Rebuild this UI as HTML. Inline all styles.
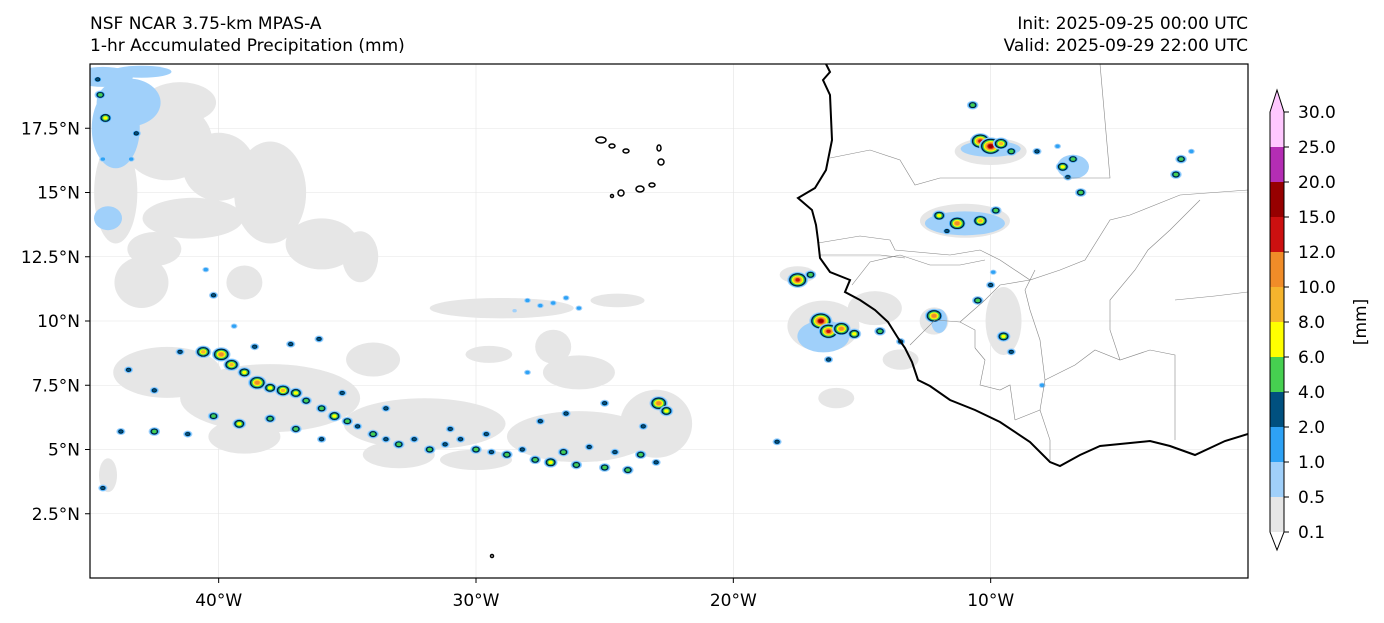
<!DOCTYPE html>
<html><head><meta charset="utf-8">
<style>
html,body{margin:0;padding:0;background:#fff;width:1384px;height:623px;overflow:hidden;font-family:"DejaVu Sans",sans-serif;}
svg text{font-family:"DejaVu Sans","Liberation Sans",sans-serif;fill:#000;}
</style></head>
<body>
<svg id="chart" width="1384" height="623" viewBox="0 0 1384 623" xmlns="http://www.w3.org/2000/svg">
  <text x="90" y="29" font-size="17">NSF NCAR 3.75-km MPAS-A</text>
  <text x="90" y="51" font-size="17">1-hr Accumulated Precipitation (mm)</text>
  <text x="1248" y="29" font-size="17" text-anchor="end">Init: 2025-09-25 00:00 UTC</text>
  <text x="1248" y="51" font-size="17" text-anchor="end">Valid: 2025-09-29 22:00 UTC</text>
  <defs><clipPath id="mapclip"><rect x="90" y="64" width="1158" height="514"/></clipPath></defs>
  <g id="map" clip-path="url(#mapclip)">
    <g id="grid"></g>
    <g id="grey"></g>
    <g id="lblue"></g>
    <g id="cells"></g>
    <g fill="none" stroke="#888" stroke-width="0.6">
      <path d="M830,158 L870,150 L900,160 L915,185 L940,178 L1015,178 L1110,178 L1100,64"/>
      <path d="M818,243 L860,236 L890,240 L895,250 L950,255 L980,250 L1000,260 L1030,280 L1060,270 L1085,260 L1110,220 L1130,215 L1180,195 L1248,190"/>
      <path d="M820,255 L880,255 L905,258"/>
      <path d="M852,285 L870,262 L900,255 L930,265 L960,265 L975,262 L985,260"/>
      <path d="M910,345 L935,320 L960,322 L975,330 L975,348"/>
      <path d="M960,322 L985,300 L1000,285 L1030,280"/>
      <path d="M975,348 L985,360 L980,385 L1000,390 L1010,385 L1015,420"/>
      <path d="M1015,420 L1040,410 L1050,440 L1050,460"/>
      <path d="M1040,410 L1045,380 L1040,340 L1030,310 L1025,290 L1035,270"/>
      <path d="M1045,380 L1075,365 L1095,350 L1120,360 L1150,350 L1175,355 L1175,440"/>
      <path d="M1120,360 L1110,330 L1110,300 L1135,270 L1148,250 L1170,230 L1200,200"/>
      <path d="M1175,300 L1215,296 L1248,292"/>
    </g>
    <path fill="none" stroke="#000" stroke-width="2" d="M826,64 L830,72 L823,80 L830,95 L832,140 L826,170 L815,188 L798,198 L812,210 L816,225 L818,240 L820,258 L830,272 L850,280 L845,292 L860,300 L875,310 L888,322 L898,338 L905,348 L912,362 L918,380 L930,386 L950,400 L975,410 L1000,422 L1030,442 L1050,462 L1060,466 L1080,455 L1100,446 L1150,441 L1170,446 L1195,455 L1225,441 L1248,434"/>
    <g fill="none" stroke="#000" stroke-width="1.5">
      <ellipse cx="601" cy="140" rx="5" ry="3"/><ellipse cx="612" cy="146" rx="3" ry="2"/>
      <ellipse cx="626" cy="151" rx="3" ry="2"/><ellipse cx="659" cy="148" rx="2" ry="3"/>
      <ellipse cx="661" cy="162" rx="3" ry="3"/><ellipse cx="621" cy="193" rx="3" ry="3"/>
      <ellipse cx="640" cy="189" rx="4" ry="3"/><ellipse cx="652" cy="185" rx="3" ry="2"/>
      <ellipse cx="612" cy="196" rx="1.5" ry="1.5"/><ellipse cx="492" cy="556" rx="1.5" ry="1.5"/>
    </g>
  </g>
  <rect x="90" y="64" width="1158" height="514" fill="none" stroke="#000" stroke-width="1.2"/>
  <g id="axes"></g>
  <g id="cbar"></g>
  <text transform="translate(1366,322) rotate(-90)" font-size="17" text-anchor="middle">[mm]</text>
</svg>
<script>
const NS="http://www.w3.org/2000/svg";
const lonTicks=[-40,-30,-20,-10];
const lonLabels=["40°W","30°W","20°W","10°W"];
const latTicks=[2.5,5,7.5,10,12.5,15,17.5];
const latLabels=["2.5°N","5°N","7.5°N","10°N","12.5°N","15°N","17.5°N"];
const cbarLevels=["0.1","0.5","1.0","2.0","4.0","6.0","8.0","10.0","12.0","15.0","20.0","25.0","30.0"];
const cbarColors=["#e6e6e6","#a0d0fa","#2ea2f5","#00507f","#46d050","#ffff00","#f5b42d","#f08c28","#cc1010","#960000","#b42db4","#ffc8ff"];
const greyLon=[-42,-44,-41,-38,-36,-34.5,-43,-42,-38,-32,-26,-23,-29,-24.5,-26,-27,-29.5,-34,-16.5,-17.5,-11,-10,-12.2,-14.5,-9.5,-44.3,-39,-33,-30,-41.5,-16,-13.5,-40,-42.5,-39];
const greyLat=[17,15,14,15,13,12.5,11.5,8,7,6,5.5,6,10.5,10.8,8,9,8.7,8.5,9.8,11.8,13.9,16.6,10,10.5,10,4,5.5,4.8,4.6,18.5,7,8.5,16,12.8,11.5];
const greyRx=[2.5,1.2,2.8,2,2,1,1.5,3,5,4.5,4,2,4,1.5,2,1,1.3,1.5,2,1,2.5,2,0.8,1.5,1,0.5,2,2,2,2,1,1,2,1.5,1];
const greyRy=[2.3,3,1.2,3,1.5,1.5,1.5,1.5,2,1.5,1.5,2,0.6,0.4,1,1,0.5,1,1.5,0.5,1,0.8,0.8,1,2,1,1,0.8,0.6,1.2,0.6,0.6,2,1,1];
const blueLon=[-44,-44.3,-16.5,-11,-10,-6.8,-44.5,-43,-12,-43.5];
const blueLat=[17.5,14,9.4,13.8,16.7,16,19.5,19.7,10,18.5];
const blueRx=[1.2,0.7,1.3,2,1.5,0.8,1.5,1.5,0.4,1.6];
const blueRy=[2,0.6,0.8,0.6,0.4,0.6,0.5,0.3,0.6,1.2];
const cellLon=[-10.4,-10.0,-9.6,-9.2,-10.7,-8.2,-7.2,-6.8,-7.4,-6.5,-7.0,-2.6,-2.8,-2.2,-12.0,-11.3,-10.4,-9.8,-11.7,-17.5,-17.0,-16.6,-16.3,-15.8,-15.3,-14.3,-13.5,-12.2,-16.3,-10.5,-10.0,-9.5,-9.2,-8,-9.9,-28,-27.5,-27,-26.5,-26,-28.5,-40.6,-39.9,-39.5,-39,-38.5,-38,-37.5,-37.0,-36.6,-36.0,-35.5,-35,-34.6,-34.0,-33.5,-33,-32.4,-31.8,-31.2,-30.6,-30.0,-29.4,-28.8,-28.2,-27.7,-27.1,-26.6,-26.1,-25.6,-25.0,-24.6,-24.1,-23.6,-23.0,-22.9,-22.6,-23.5,-26.5,-27.5,-28,-25,-40.2,-39.2,-38,-37,-36,-41.2,-42.5,-42.5,-43.8,-44.5,-38.6,-37.2,-36.1,-39.4,-41.5,-43.5,-35.2,-33.5,-31,-29.6,-44.6,-44.4,-43.2,-44.5,-43.4,-40.5,-40.2,-44.7,-18.3];
const cellLat=[17.0,16.8,16.9,16.6,18.4,16.6,16.0,16.3,16.8,15.0,15.6,16.3,15.7,16.6,14.1,13.8,13.9,14.3,13.5,11.6,11.8,10.0,9.6,9.7,9.5,9.6,9.2,10.2,8.5,10.8,11.4,9.4,8.8,7.5,11.9,10.8,10.6,10.7,10.9,10.5,10.4,8.8,8.7,8.3,8.0,7.6,7.4,7.3,7.2,6.9,6.6,6.3,6.1,5.9,5.6,5.4,5.2,5.4,5.0,5.2,5.4,5.0,4.9,4.8,5.0,4.6,4.5,4.9,4.4,5.1,4.3,4.9,4.2,4.8,4.5,6.8,6.5,5.9,6.4,6.1,8.0,6.8,6.3,6.0,6.2,5.8,5.4,5.6,7.3,5.7,5.7,3.5,9.0,9.1,9.3,9.8,8.8,8.1,7.2,6.6,5.8,5.6,18.8,17.9,17.3,16.3,16.3,12.0,11.0,19.4,5.3];
const cellLvl=[8,9,6,4,4,3,5,4,2,4,3,4,4,2,5,7,6,4,3,8,4,9,8,7,5,4,3,7,3,4,3,5,3,2,2,2,2,2,2,2,1,6,7,6,5,7,5,6,5,4,4,5,4,3,4,3,4,3,4,3,3,4,3,4,3,4,5,4,4,3,4,3,4,4,3,7,5,3,3,3,2,3,4,5,4,4,3,3,3,4,3,3,3,3,3,2,3,3,3,3,3,3,4,5,3,2,2,2,3,3,3];

function X(lon){return 90+(lon+45)*1158/45;}
function Y(lat){return 578-lat*514/20;}
function mk(tag,parent,attrs){const e=document.createElementNS(NS,tag);for(const k in attrs)e.setAttribute(k,attrs[k]);parent.appendChild(e);return e;}

const grid=document.getElementById('grid');
lonTicks.forEach(v=>{const l=mk('line',grid,{x1:X(v),x2:X(v),y1:64,y2:578,stroke:'#e4e4e4','stroke-width':0.6});

});
latTicks.forEach(v=>{const l=mk('line',grid,{x1:90,x2:1248,y1:Y(v),y2:Y(v),stroke:'#e4e4e4','stroke-width':0.6});

});

const gG=document.getElementById('grey');
greyLon.forEach((lon,i)=>{const e=mk('ellipse',gG,{cx:X(lon),cy:Y(greyLat[i]),rx:greyRx[i]*18,ry:greyRy[i]*17,fill:'#e6e6e6'});

});
const bG=document.getElementById('lblue');
blueLon.forEach((lon,i)=>{const e=mk('ellipse',bG,{cx:X(lon),cy:Y(blueLat[i]),rx:blueRx[i]*20,ry:blueRy[i]*20,fill:'#a0d0fa'});

});

const cG=document.getElementById('cells');
cellLon.forEach((lon,i)=>{
  const g=mk('g',cG,{});
  
  
  const L=cellLvl[i],cx=X(lon),cy=Y(cellLat[i]);
  for(let k=1;k<=L;k++){
    const r=(L-k+1)*0.9+0.8;
    mk('ellipse',g,{cx:cx,cy:cy,rx:r*1.3,ry:r,fill:cbarColors[k],stroke:k===3?'#000':'none','stroke-width':0.6});
  }
});

const ax=document.getElementById('axes');
lonTicks.forEach((v,i)=>{mk('line',ax,{x1:X(v),x2:X(v),y1:578,y2:583,stroke:'#000'});
const t=mk('text',ax,{x:X(v),y:606,'font-size':17,'text-anchor':'middle'});t.textContent=lonLabels[i];

});
latTicks.forEach((v,i)=>{mk('line',ax,{x1:85,x2:90,y1:Y(v),y2:Y(v),stroke:'#000'});
const t=mk('text',ax,{x:80,y:Y(v)+6,'font-size':17,'text-anchor':'end'});t.textContent=latLabels[i];

});

const cb=document.getElementById('cbar');
const cx0=1270,cw=14,cTop=112,seg=35;
const nLev=cbarLevels.length;
function CY(i){return cTop+(nLev-1-i)*seg;}
for(let i=0;i<nLev-1;i++){const r=mk('rect',cb,{x:cx0,y:CY(i+1),width:cw,height:seg,fill:cbarColors[i]});

}
const upTri=mk('path',cb,{d:`M${cx0},${cTop} L${cx0+cw/2},${cTop-22} L${cx0+cw},${cTop} Z`,fill:cbarColors[cbarColors.length-1]});


const dnTri=mk('path',cb,{d:`M${cx0},${CY(0)} L${cx0+cw/2},${CY(0)+18} L${cx0+cw},${CY(0)} Z`,fill:'#fff'});


mk('path',cb,{d:`M${cx0},${cTop} L${cx0+cw/2},${cTop-22} L${cx0+cw},${cTop} L${cx0+cw},${CY(0)} L${cx0+cw/2},${CY(0)+18} L${cx0},${CY(0)} Z`,fill:'none',stroke:'#000','stroke-width':1});
cbarLevels.forEach((v,i)=>{mk('line',cb,{x1:cx0+cw,x2:cx0+cw+5,y1:CY(i),y2:CY(i),stroke:'#000'});
const t=mk('text',cb,{x:1298,y:CY(i)+6,'font-size':17});t.textContent=v;

});
</script>
</body></html>
